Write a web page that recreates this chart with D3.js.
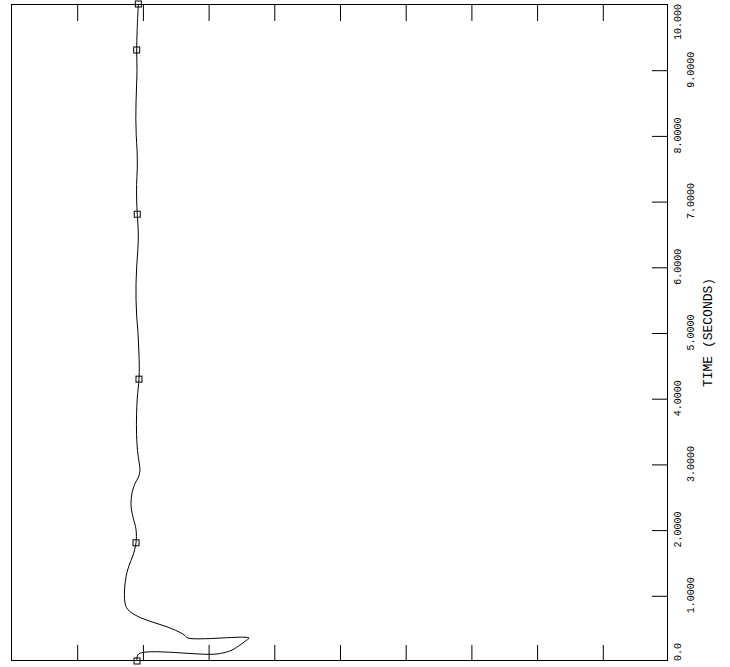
<!DOCTYPE html>
<html>
<head>
<meta charset="utf-8">
<script src="https://cdn.jsdelivr.net/npm/d3@7"></script>
<style>
  html, body { margin: 0; padding: 0; background: #fff; }
  svg { display: block; }
</style>
</head>
<body>
<svg id="chart" width="730" height="667"></svg>
<script>
// ---- data ----
const lineTime  = [0, 0.107, 0.107, 0.167, 0.244, 0.30, 0.35, 0.35, 0.40, 0.45, 0.52, 0.58, 0.65, 0.72, 0.78, 0.85, 0.95, 1.08, 1.23, 1.35, 1.45, 1.61, 1.80, 2.0, 2.19, 2.30, 2.40, 2.56, 2.70, 2.80, 2.90, 3.0, 3.2, 3.45, 3.75, 4.0, 4.29, 4.5, 4.75, 5.0, 5.25, 5.5, 5.75, 6.0, 6.25, 6.5, 6.8, 7.0, 7.25, 7.5, 7.75, 8.0, 8.25, 8.5, 8.75, 9.0, 9.3, 9.6, 10.0];
const lineValue = [1.918, 1.941, 3.135, 3.364, 3.486, 3.562, 3.623, 2.694, 2.633, 2.542, 2.374, 2.192, 1.994, 1.857, 1.781, 1.743, 1.728, 1.728, 1.743, 1.766, 1.796, 1.857, 1.903, 1.903, 1.857, 1.834, 1.826, 1.842, 1.887, 1.941, 1.963, 1.953, 1.926, 1.911, 1.911, 1.922, 1.948, 1.953, 1.944, 1.933, 1.913, 1.903, 1.903, 1.913, 1.930, 1.938, 1.922, 1.913, 1.912, 1.922, 1.920, 1.906, 1.900, 1.903, 1.911, 1.918, 1.913, 1.920, 1.938];
const markerTime  = [0, 1.8, 4.29, 6.8, 9.3, 10.0];
const markerValue = [1.918, 1.903, 1.948, 1.922, 1.913, 1.938];
const timeTicks  = [0, 1, 2, 3, 4, 5, 6, 7, 8, 9, 10];
const timeLabels = ["0.0", "1.0000", "2.0000", "3.0000", "4.0000", "5.0000", "6.0000", "7.0000", "8.0000", "9.0000", "10.000"];
const valueTicks = [1, 2, 3, 4, 5, 6, 7, 8, 9];
const axisTitle = "TIME (SECONDS)";

// ---- layout ----
const L = 11, R = 668, T = 4, B = 661;
const svg = d3.select("#chart");
const x = d3.scaleLinear().domain([0, 10]).range([L, R]);
const y = d3.scaleLinear().domain([0, 10]).range([B, T]);
const font = "'Liberation Mono', 'Courier New', monospace";

// frame
svg.append("rect")
  .attr("x", L + 0.5).attr("y", T + 0.5)
  .attr("width", R - L - 1).attr("height", B - T - 1)
  .attr("fill", "none").attr("stroke", "#000").attr("stroke-width", 1);

// top ticks (pointing down)
const topAxis = svg.append("g").attr("transform", `translate(0.5,${T})`)
  .call(d3.axisBottom(x).tickValues(valueTicks).tickSize(17).tickFormat(""));
// bottom ticks (pointing up)
const botAxis = svg.append("g").attr("transform", `translate(0.5,${B})`)
  .call(d3.axisTop(x).tickValues(valueTicks).tickSize(16).tickFormat(""));
// right ticks (pointing left)
const rightAxis = svg.append("g").attr("transform", `translate(${R},0.5)`)
  .call(d3.axisLeft(y).tickValues(timeTicks.slice(1, -1)).tickSize(16).tickFormat(""));
[topAxis, botAxis, rightAxis].forEach(g => {
  g.select(".domain").remove();
  g.selectAll(".tick line").attr("stroke", "#000").attr("stroke-width", 1);
});

// right tick labels (rotated, alternating offsets)
svg.append("g").selectAll("text")
  .data(timeTicks)
  .join("text")
  .attr("transform", (d, i) => {
    const xx = (i % 2 === 0) ? 681 : 694;
    return `translate(${xx},${y(d)}) rotate(-90)`;
  })
  .attr("text-anchor", (d, i) => i === 0 ? "start" : (i === timeTicks.length - 1 ? "end" : "middle"))
  .attr("font-family", font)
  .attr("font-size", 10)
  .attr("fill", "#000")
  .text((d, i) => timeLabels[i]);

// axis title
svg.append("text")
  .attr("transform", `translate(712,${(T + B) / 2}) rotate(-90)`)
  .attr("text-anchor", "middle")
  .attr("font-family", font)
  .attr("font-size", 13)
  .attr("fill", "#000")
  .text(axisTitle);

// series line
const pts = lineTime.map((t, i) => [lineValue[i], t]);
const line = d3.line()
  .x(d => x(d[0]))
  .y(d => y(d[1]))
  .curve(d3.curveCatmullRom.alpha(0.5));
svg.append("path")
  .datum(pts)
  .attr("d", line)
  .attr("fill", "none")
  .attr("stroke", "#000")
  .attr("stroke-width", 1);

// markers
svg.append("g").selectAll("rect")
  .data(markerTime.map((t, i) => [markerValue[i], t]))
  .join("rect")
  .attr("x", d => x(d[0]) - 3)
  .attr("y", d => y(d[1]) - 3)
  .attr("width", 6).attr("height", 6)
  .attr("fill", "none")
  .attr("stroke", "#000")
  .attr("stroke-width", 1);
</script>
</body>
</html>
